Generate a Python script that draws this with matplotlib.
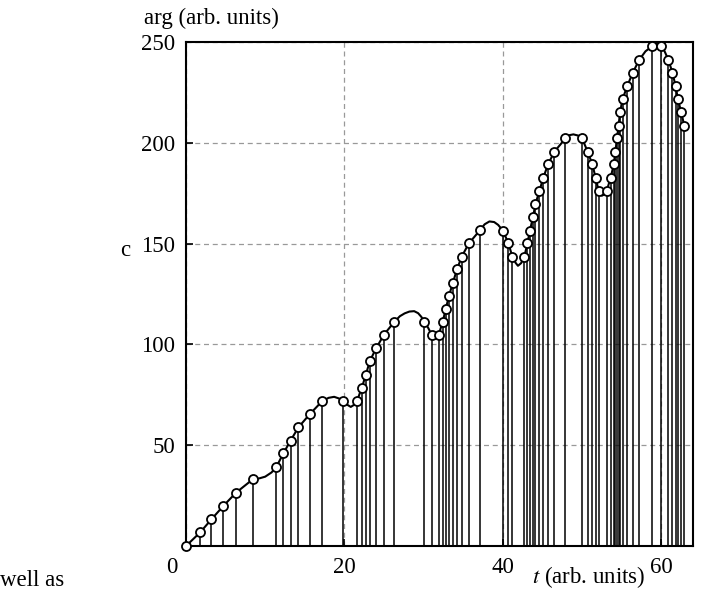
import matplotlib.pyplot as plt
from matplotlib.transforms import ScaledTranslation

plt.rcParams['font.family'] = ['Liberation Serif', 'DejaVu Serif']
plt.rcParams['mathtext.fontset'] = 'stix'

t_pts = [0.0, 1.8, 3.2, 4.7, 6.3, 8.4, 11.4, 12.3, 13.2, 14.2, 15.6, 17.2,
         19.8, 21.6, 22.2, 22.7, 23.2, 24.0, 25.0, 26.3, 30.1, 31.0, 31.9,
         32.4, 32.8, 33.2, 33.7, 34.2, 34.8, 35.7, 37.1, 40.0, 40.7, 41.2,
         42.7, 43.1, 43.4, 43.8, 44.1, 44.6, 45.1, 45.7, 46.5, 47.9, 50.0,
         50.7, 51.3, 51.7, 52.1, 53.1, 53.6, 54.0, 54.2, 54.4, 54.6, 54.8,
         55.1, 55.7, 56.4, 57.2, 58.8, 59.9, 60.9, 61.4, 61.8, 62.1, 62.5,
         62.9]
arg_pts = [0.0, 6.8, 13.2, 19.8, 26.4, 33.0, 39.2, 46.0, 52.3, 58.9, 65.3, 71.9,
           71.9, 72.1, 78.6, 84.9, 91.7, 98.1, 104.9, 111.2, 111.2, 104.8, 104.8,
           111.2, 117.7, 124.2, 130.7, 137.2, 143.5, 150.1, 156.6, 156.5, 150.1, 143.5,
           143.5, 150.1, 156.4, 163.0, 169.5, 176.0, 182.7, 189.3, 195.6, 202.2, 202.2,
           195.6, 189.3, 182.7, 176.1, 176.1, 182.7, 189.3, 195.6, 202.2, 208.5, 215.3,
           221.6, 228.2, 234.8, 241.1, 247.8, 247.8, 241.1, 234.8, 228.2, 221.6, 215.3,
           208.5]

# extra points on the continuous curve (flat part, peaks, troughs)
t_extra = [9.3, 10.0, 10.8, 18.0, 18.7, 19.3, 20.3, 20.8, 21.2, 27.0, 27.6,
           28.2, 28.8, 29.3, 29.7, 30.6, 31.45, 37.7, 38.3, 38.9, 39.4,
           41.6, 41.9, 42.3, 48.4, 48.9, 49.5, 52.5, 52.8, 58.0, 59.4, 60.4]
arg_extra = [33.6, 34.4, 36.5, 73.5, 74.0, 73.2, 70.2, 69.0, 70.0, 114.0, 115.4,
             116.3, 116.5, 115.5, 113.7, 108.0, 102.8, 159.6, 161.0, 160.7, 159.3,
             140.5, 139.0, 140.3, 203.8, 204.2, 203.6, 173.8, 174.4, 245.4, 249.0, 245.5]

curve = sorted(zip(t_pts + t_extra, arg_pts + arg_extra))
t_curve = [c[0] for c in curve]
arg_curve = [c[1] for c in curve]

xticks = [0, 20, 40, 60]
yticks = [50, 100, 150, 200, 250]

fig = plt.figure(figsize=(7.04, 5.92), dpi=100)
ax = fig.add_axes([0.2642, 0.0777, 0.7202, 0.8513])

ax.vlines(t_pts, 0, arg_pts, color='black', lw=1.1, zorder=2)
ax.plot(t_curve, arg_curve, color='black', lw=1.5, zorder=3)
ax.plot(t_pts, arg_pts, 'o', ms=6.5, mfc='white', mec='black', mew=1.3,
        zorder=4, clip_on=False)

ax.set_xlim(0, 64)
ax.set_ylim(0, 250)
ax.set_xticks(xticks)
ax.set_yticks(yticks)
ax.grid(True, color='#999999', ls=(0, (4, 3)), lw=0.9)
ax.tick_params(direction='in', length=5, width=1.2, labelsize=16.5,
               colors='black', pad=8)
for s in ax.spines.values():
    s.set_linewidth(1.5)

# first x label sits left of the axis corner
lab0 = ax.get_xticklabels()[0]
lab0.set_transform(lab0.get_transform() +
                   ScaledTranslation(-14 / 100, 0, fig.dpi_scale_trans))

fig.text(144 / 704, 1 - 18 / 592, 'arg (arb. units)', fontsize=16.5,
         ha='left', va='center')
fig.text(589 / 704, 1 - 577 / 592, r'$t$ (arb. units)', fontsize=16.5,
         ha='center', va='center')
fig.text(125 / 704, 1 - 250 / 592, 'c', fontsize=16.5, ha='center', va='center')
fig.text(0, 1 - 580 / 592, 'well as', fontsize=16.5, ha='left', va='center')

fig.savefig('out.png', dpi=100)
